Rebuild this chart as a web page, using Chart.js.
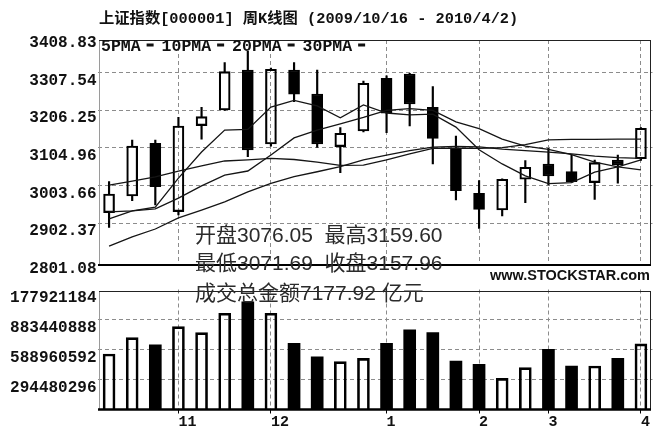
<!DOCTYPE html>
<html><head><meta charset="utf-8">
<script src="https://cdn.jsdelivr.net/npm/chart.js@4.4.0/dist/chart.umd.min.js"></script>
<style>
html,body{margin:0;padding:0;background:#fff;}
#wrap{position:relative;width:654px;height:428px;overflow:hidden;}
#wrap canvas{position:absolute;left:0;top:0;}
</style></head><body>
<div id="wrap">
<canvas id="vol" width="654" height="428"></canvas>
<canvas id="price" width="654" height="428"></canvas>
</div>
<script>
// ---- data (weekly candles, 2009/10/16 - 2010/4/2) ----
const CATEGORIES = ['2009/10/16','2009/10/23','2009/10/30','2009/11/06','2009/11/13','2009/11/20','2009/11/27',
  '2009/12/04','2009/12/11','2009/12/18','2009/12/25','2009/12/31','2010/01/08','2010/01/15','2010/01/22','2010/01/29',
  '2010/02/05','2010/02/12','2010/02/26','2010/03/05','2010/03/12','2010/03/19','2010/03/26','2010/04/02'];
const OPEN  = [2930.9,2975.8,3117.6,2933.6,3164.9,3207.2,3314.8,3115.7,3314.8,3250.2,3108.4,3150.7,3292.5,3304.0,3214.4,3104.1,2983.1,2938.2,3020.8,3061.9,3041.2,3011.6,3072.7,3076.05];
const HIGH  = [3014.3,3126.5,3126.5,3187.5,3214.4,3334.4,3365.0,3320.0,3334.4,3314.8,3159.6,3285.0,3299.0,3306.0,3269.9,3137.2,3017.0,3022.0,3070.8,3104.1,3086.1,3072.7,3086.1,3159.60];
const LOW   = [2891.6,2963.2,2951.6,2924.7,3128.4,3206.0,3081.5,3110.0,3229.5,3106.8,3038.5,3148.0,3146.1,3164.1,3061.9,2965.0,2888.9,2922.0,2957.8,3005.4,3013.0,2966.9,3010.0,3071.69];
const CLOSE = [2981.2,3110.3,3001.2,3164.1,3189.2,3310.2,3099.6,3316.7,3249.4,3115.7,3144.5,3279.0,3198.3,3223.3,3131.0,2990.1,2939.9,3020.8,3053.1,3029.6,3014.3,3065.4,3059.2,3157.96];
const MA5  = [2914,2936,2946,3024,3094,3153,3155,3215,3233,3218,3186,3221,3199,3194,3196,3161,3100,3062,3030,3009,3012,3040,3054,3073];
const MA10 = [2933,2936,2941,2970,3003,3032,3043,3086,3132,3153,3170,3187,3206,3211,3206,3175,3157,3129,3110,3101,3087,3067,3054,3046];
const MA20 = [3005,3016,3027,3043,3057,3070,3073,3077,3074,3067,3058,3059,3073,3089,3104,3104,3104,3106,3114,3127,3128,3128,3129,3129];
const MA30 = [2841,2866,2887,2917,2938,2960,2987,3010,3028,3041,3055,3073,3086,3098,3107,3109,3108,3102,3098,3094,3089,3083,3079,3077];
const VOLUME = [545e6,705e6,634e6,813e6,754e6,945e6,1058e6,945e6,650e6,518e6,470e6,502e6,650e6,781e6,754e6,476e6,443e6,306e6,411e6,591e6,427e6,427e6,502e6,644e6];
const PRICE_TICKS = [3408.83,3307.54,3206.25,3104.96,3003.66,2902.37,2801.08];
const VOLUME_TICKS = [1177921184,883440888,588960592,294480296];
const VOLUME_TICK_LABELS = ['177921184','883440888','588960592','294480296'];
const MONTH_LABELS = {'2009/11/06':'11','2009/12/04':'12','2010/01/08':'1','2010/02/05':'2','2010/03/05':'3','2010/04/02':'4'};
const LEGEND_ITEMS = ['5PMA','10PMA','20PMA','30PMA'];
const TITLE = '上证指数[000001] 周K线图 (2009/10/16 - 2010/4/2)';
const INFO_LINES = ['开盘3076.05  最高3159.60','最低3071.69  收盘3157.96','成交总金额7177.92 亿元'];
const WATERMARK = 'www.STOCKSTAR.com';

// ---- derived ----
const UP = CLOSE.map((c,i)=>c>=OPEN[i]);
const isMonth = i => MONTH_LABELS[CATEGORIES[i]] !== undefined;
const GRID = '#8c8c8c';
const DASH = [4,3];
const AXIS_FONT = {family:'"Liberation Mono", "DejaVu Sans Mono", monospace', weight:'bold', size:16};

const framePlugin = {
  id:'frame',
  afterDraw(chart, args, opts){
    const {ctx, chartArea:a} = chart;
    const L = a.left + 1.5, R = a.right - 1.5;
    const T = a.top + (opts.topShift||0), B = a.bottom;
    ctx.save();
    ctx.lineWidth = 1; ctx.strokeStyle = '#9a9a9a';
    ctx.beginPath(); ctx.moveTo(L+0.5, T); ctx.lineTo(L+0.5, B); ctx.stroke();
    ctx.strokeStyle = '#222';
    ctx.beginPath(); ctx.moveTo(L, T+0.5); ctx.lineTo(R, T+0.5); ctx.stroke();
    ctx.beginPath(); ctx.moveTo(R-0.5, T); ctx.lineTo(R-0.5, B); ctx.stroke();
    ctx.lineWidth = opts.bottomWidth||2; ctx.strokeStyle = '#000';
    ctx.beginPath(); ctx.moveTo(L-1, B); ctx.lineTo(R, B); ctx.stroke();
    ctx.restore();
  }
};

const textPlugin = {
  id:'texts',
  afterDraw(chart){
    const ctx = chart.ctx;
    ctx.save();
    ctx.fillStyle = '#111';
    ctx.textBaseline = 'middle';
    ctx.textAlign = 'left';
    ctx.font = 'bold 15.3px "Liberation Mono", "Noto Sans CJK SC"';
    ctx.fillText(TITLE, 99, 19);
    // legend
    ctx.font = 'bold 16.5px "Liberation Mono"';
    let x = 101;
    LEGEND_ITEMS.forEach(t=>{
      ctx.fillText(t, x, 47);
      x += ctx.measureText(t).width + 6;
      ctx.fillRect(x, 43.5, 7, 3);
      x += 7 + 8;
    });
    // watermark
    ctx.font = 'bold 14.5px "Liberation Sans", Arial';
    ctx.textAlign = 'right';
    ctx.fillText(WATERMARK, 650, 276);
    // info overlay
    ctx.textAlign = 'left';
    ctx.fillStyle = '#2b2b2b';
    ctx.font = '21px "Liberation Sans", "Noto Sans CJK SC"';
    const ys = [236, 264, 294];
    INFO_LINES.forEach((t,i)=>ctx.fillText(t, 195, ys[i]));
    ctx.restore();
  }
};

const lineDs = (label, data) => ({
  type:'line', label, data, borderColor:'#151515', borderWidth:1.3,
  pointRadius:0, fill:false, tension:0, order:0
});

new Chart(document.getElementById('price'), {
  type:'bar',
  data:{
    labels:CATEGORIES,
    datasets:[
      lineDs('5PMA', MA5), lineDs('10PMA', MA10), lineDs('20PMA', MA20), lineDs('30PMA', MA30),
      {label:'body', data:OPEN.map((o,i)=>[o, CLOSE[i]]), grouped:false, barThickness:11,
       backgroundColor:UP.map(u=>u?'rgba(255,255,255,0)':'#000'), borderColor:'#000',
       borderWidth:1.5, borderSkipped:false, order:1},
      {label:'upper', data:HIGH.map((h,i)=>[Math.max(OPEN[i],CLOSE[i]), h]), grouped:false,
       barThickness:1.5, backgroundColor:'#000', borderWidth:0, order:2},
      {label:'lower', data:LOW.map((l,i)=>[l, Math.min(OPEN[i],CLOSE[i])]), grouped:false,
       barThickness:1.5, backgroundColor:'#000', borderWidth:0, order:2}
    ]
  },
  options:{
    responsive:false, animation:false, devicePixelRatio:1,
    layout:{padding:{left:0,right:1.5,top:40,bottom:163}},
    plugins:{legend:{display:false}, tooltip:{enabled:false}, frame:{bottomWidth:2}},
    scales:{
      x:{
        offset:true,
        grid:{offset:false, color:c=>isMonth(c.index)?GRID:'rgba(0,0,0,0)', drawTicks:false, lineWidth:1},
        border:{display:false, dash:DASH},
        ticks:{display:false},
        afterFit:s=>{s.height=0;}
      },
      y:{
        min:2790.2, max:3395.4,
        afterBuildTicks:s=>{s.ticks = PRICE_TICKS.map(v=>({value:v}));},
        ticks:{autoSkip:false, callback:(v,i)=>PRICE_TICKS[i].toFixed(2), font:AXIS_FONT, color:'#111', labelOffset:8, padding:1},
        grid:{color:c=>(c.index>0 && c.index<PRICE_TICKS.length-1)?GRID:'rgba(0,0,0,0)', drawTicks:false},
        border:{display:false, dash:DASH},
        afterFit:s=>{s.width=97.5;}
      }
    }
  },
  plugins:[framePlugin, textPlugin]
});

new Chart(document.getElementById('vol'), {
  type:'bar',
  data:{
    labels:CATEGORIES,
    datasets:[{label:'volume', data:VOLUME, barThickness:12,
      backgroundColor:UP.map(u=>u?'rgba(255,255,255,0)':'#000'), borderColor:'#000',
      borderWidth:UP.map(u=>u?2:0), borderSkipped:'start'}]
  },
  options:{
    responsive:false, animation:false, devicePixelRatio:1,
    layout:{padding:{left:0,right:1.5,top:289.5,bottom:0}},
    plugins:{legend:{display:false}, tooltip:{enabled:false}, frame:{bottomWidth:2.5, topShift:1.5}},
    scales:{
      x:{
        offset:true,
        grid:{offset:false, color:c=>isMonth(c.index)?GRID:'rgba(0,0,0,0)',
              tickColor:c=>isMonth(c.index)?'#000':'rgba(0,0,0,0)', tickLength:4, drawTicks:true},
        border:{display:false, dash:DASH},
        ticks:{autoSkip:false, maxRotation:0, align:'start', padding:0,
               callback:(v,i)=>MONTH_LABELS[CATEGORIES[i]]||'',
               font:{family:'"Liberation Mono", monospace', weight:'bold', size:15}, color:'#111'},
        afterFit:s=>{s.height=18.5;}
      },
      y:{
        min:0, max:1177921184,
        afterBuildTicks:s=>{s.ticks = VOLUME_TICKS.map(v=>({value:v}));},
        ticks:{autoSkip:false, callback:(v,i)=>VOLUME_TICK_LABELS[i], font:AXIS_FONT, color:'#111', labelOffset:8, padding:1},
        grid:{color:c=>c.index>0?GRID:'rgba(0,0,0,0)', drawTicks:false},
        border:{display:false, dash:DASH},
        afterFit:s=>{s.width=97.5;}
      }
    }
  },
  plugins:[framePlugin]
});
</script>
</body></html>
